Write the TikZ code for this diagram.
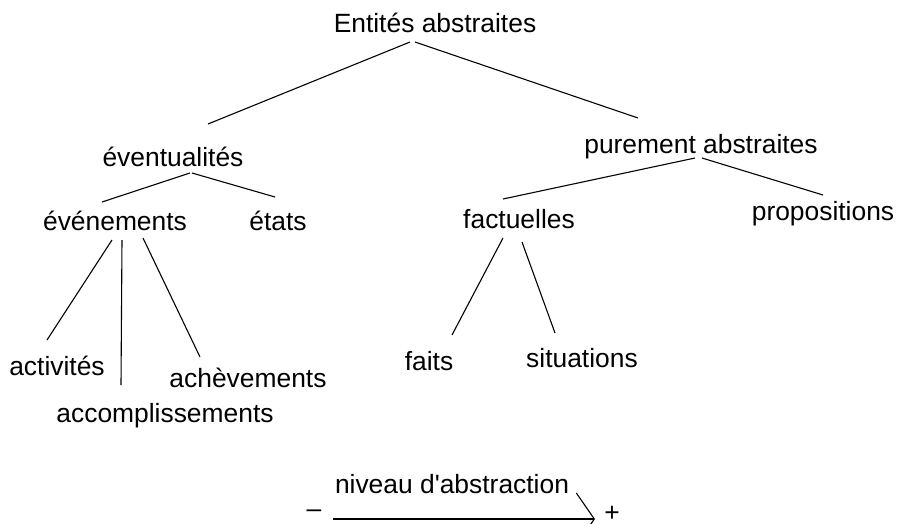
\documentclass[tikz,border=0pt]{standalone}
\usepackage{fontspec}
\setmainfont{Liberation Sans}
\usetikzlibrary{arrows.meta}
\begin{document}
\begin{tikzpicture}[x=1pt,y=-1pt,
  lbl/.style={inner sep=0pt, anchor=base, font=\fontsize{26.4}{30}\selectfont},
  edge/.style={line width=1.1pt, black}]
\useasboundingbox (0,0) rectangle (898,523);
% nodes (x = centre, y = baseline)
\node[lbl] (root) at (435,32) {Entités abstraites};
\node[lbl] (even) at (173,166) {éventualités};
\node[lbl] (pure) at (701,153) {purement abstraites};
\node[lbl] (evts) at (115,230) {événements};
\node[lbl] (etat) at (278,230) {états};
\node[lbl] (fact) at (519,228) {factuelles};
\node[lbl] (prop) at (823,220) {propositions};
\node[lbl] (acti) at (57,375) {activités};
\node[lbl] (achv) at (248,387) {achèvements};
\node[lbl] (acco) at (165,422) {accomplissements};
\node[lbl] (fait) at (429,370) {faits};
\node[lbl] (situ) at (582,367) {situations};
\node[lbl] (niv) at (452,493) {niveau d\textquotesingle abstraction};
\node[lbl] (minus) at (314,517) {\textendash};
\node[lbl] (plus) at (612,521) {+};
% connector end points
\coordinate (r1) at (410,42);  \coordinate (r2) at (415,42);
\coordinate (e0) at (208,124); \coordinate (p0) at (638,118);
\coordinate (v1) at (190,173); \coordinate (v2) at (192,173);
\coordinate (ev0) at (102,202); \coordinate (et0) at (275,197);
\coordinate (s1) at (112,240); \coordinate (s2) at (122,240); \coordinate (s3) at (143,238);
\coordinate (ac0) at (47,340); \coordinate (co0) at (121,385); \coordinate (ah0) at (200,357);
\coordinate (u1) at (695,158); \coordinate (u2) at (702,158);
\coordinate (f0) at (503,199); \coordinate (q0) at (823,195);
\coordinate (t1) at (503,238); \coordinate (t2) at (522,242);
\coordinate (fa0) at (452,335); \coordinate (si0) at (555,333);
\coordinate (arrS) at (333,519); \coordinate (arrE) at (595,519);
% connectors
\draw[edge] (r1) -- (e0);
\draw[edge] (r2) -- (p0);
\draw[edge] (v1) -- (ev0);
\draw[edge] (v2) -- (et0);
\draw[edge] (s1) -- (ac0);
\draw[edge] (s2) -- (co0);
\draw[edge] (s3) -- (ah0);
\draw[edge] (u1) -- (f0);
\draw[edge] (u2) -- (q0);
\draw[edge] (t1) -- (fa0);
\draw[edge] (t2) -- (si0);
\draw[edge, -{Straight Barb[length=18pt,width=52pt,line width=1.1pt]}] (arrS) -- (arrE);
\end{tikzpicture}
\end{document}
